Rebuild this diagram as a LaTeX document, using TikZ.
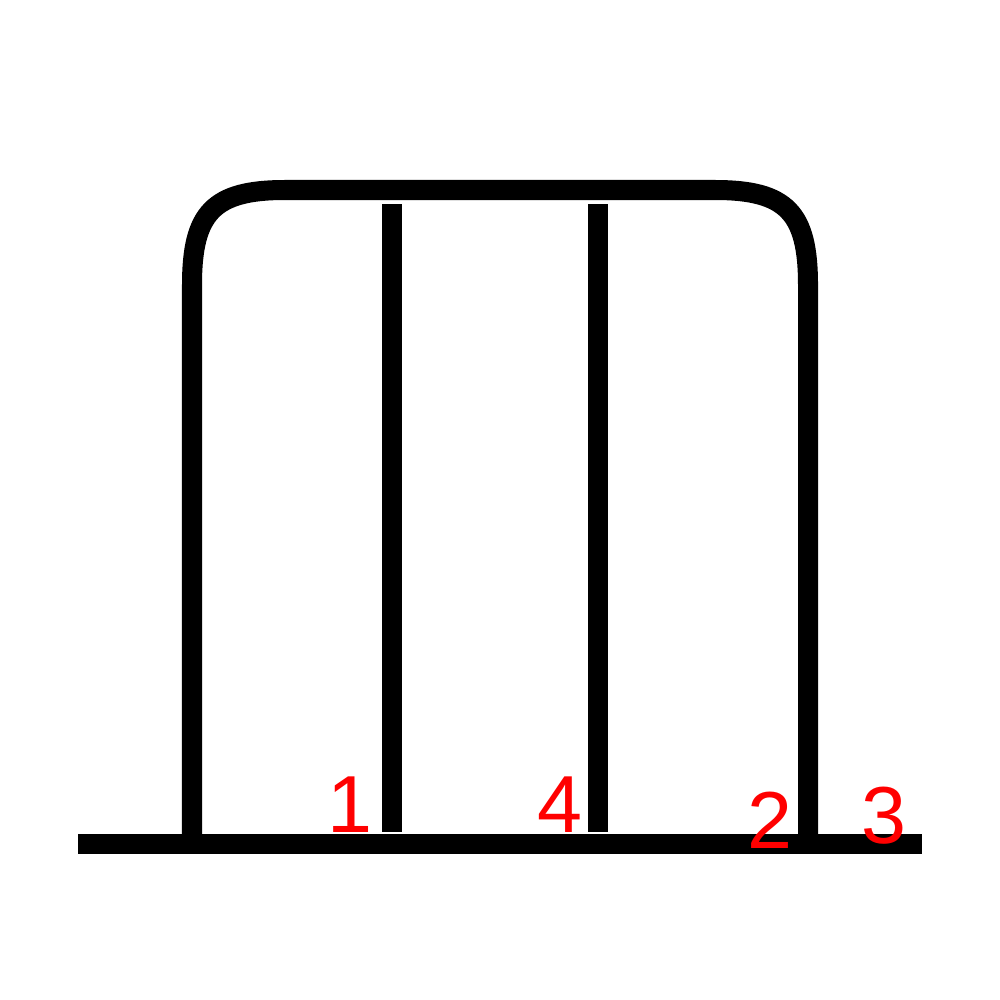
\documentclass[tikz,border=0pt]{standalone}
\usepackage{fontspec}
\setmainfont{Liberation Sans}
\usepackage{tikz}
\usetikzlibrary{positioning, calc}

\begin{document}
\begin{tikzpicture}[
    x=0.01cm, y=-0.01cm,
    bar/.style={line width=0.2cm, draw=black},
    numlabel/.style={text=red, inner sep=0pt, anchor=base, font=\fontsize{23pt}{27pt}\selectfont}
]
    \useasboundingbox (0,0) rectangle (1000,1000);

    \coordinate (baseL) at (78,844);
    \coordinate (baseR) at (922,844);
    \coordinate (frameL) at (192,834);
    \coordinate (frameR) at (808,834);
    \coordinate (barAtop) at (392,204);
    \coordinate (barAbot) at (392,832);
    \coordinate (barBtop) at (598,204);
    \coordinate (barBbot) at (598,832);

    \draw [bar] (baseL) -- (baseR);
    \draw [bar] (frameL) -- (192,285) .. controls (192,213) and (213,190) .. (285,190)
        -- (715,190) .. controls (787,190) and (808,213) .. (808,285) -- (frameR);
    \draw [bar] (barAtop) -- (barAbot);
    \draw [bar] (barBtop) -- (barBbot);

    \node [numlabel] (n1) at (350,832) {1};
    \node [numlabel] (n4) at (560,832) {4};
    \node [numlabel] (n2) at (770,848) {2};
    \node [numlabel] (n3) at (884,843) {3};
\end{tikzpicture}
\end{document}
